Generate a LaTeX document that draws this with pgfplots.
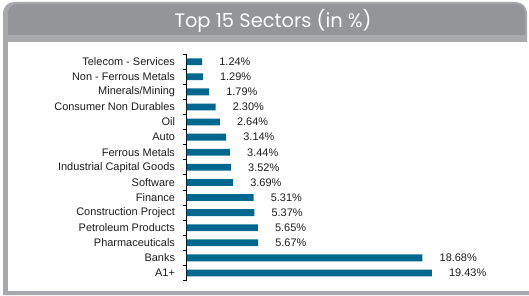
\documentclass[border=0pt]{standalone}
\usepackage{pgfplots}
\pgfplotsset{compat=1.18}
\usepackage{fontspec}
\setmainfont{Liberation Sans}
\newfontfamily\titlefont{Poppins}
\definecolor{framegray}{HTML}{A7A9AC}
\definecolor{headgray}{HTML}{939598}
\definecolor{barblue}{HTML}{00688F}
\definecolor{txt}{HTML}{1E1E1E}
\begin{document}
\begin{tikzpicture}
\begin{scope}[x=1bp,y=-1bp,yshift=295bp]
\path[use as bounding box] (0,0) rectangle (529,295);
\fill[framegray] (3,295) -- (3,13) arc[start angle=180,end angle=270,radius=11] -- (516,2) arc[start angle=270,end angle=360,radius=11] -- (527,42) -- (529,42) -- (529,295) -- cycle;
\fill[white] (8,42) rectangle (529,291);
\fill[headgray] (8,35) -- (8,13) arc[start angle=180,end angle=270,radius=9] -- (516,4) arc[start angle=270,end angle=360,radius=9] -- (525,35) -- cycle;
\node[text=white,font=\titlefont\fontsize{19.5}{22}\selectfont,inner sep=0pt,anchor=base] at (273,28) {Top 15 Sectors (in \%)};
\end{scope}
\begin{axis}[
  at={(186.5bp,14.5bp)}, anchor=south west,
  scale only axis, width=315.75bp, height=226.35bp,
  xbar, bar width=6.8bp,
  xmin=0, xmax=25, ymin=0.5, ymax=15.5,
  hide x axis, axis y line*=left,
  y axis line style={-, line width=0.9bp, color=black},
  ytick={1,...,15},
  yticklabels={A1+,Banks,Pharmaceuticals,Petroleum Products,Construction Project,Finance,Software,Industrial Capital Goods,Ferrous Metals,Auto,Oil,Consumer Non Durables,Minerals/Mining,Non - Ferrous Metals,Telecom - Services},
  major tick length=0pt,
  minor ytick={0.5,1.5,...,15.5},
  minor tick length=4bp,
  tick align=outside, ytick pos=left,
  minor tick style={line width=0.9bp, color=black},
  yticklabel style={font=\fontsize{11}{13}\selectfont, text=txt, xshift=-8bp},
  /pgf/number format/assume math mode=true,
  nodes near coords={\pgfmathprintnumber[fixed,precision=2,fixed zerofill]{\pgfplotspointmeta}\%},
  nodes near coords style={font=\fontsize{11}{13}\selectfont, text=txt, anchor=west, xshift=13.7bp},
  clip=false,
]
\addplot[fill=barblue, draw=none] coordinates {
(19.43,1) (18.68,2) (5.67,3) (5.65,4) (5.37,5) (5.31,6) (3.69,7) (3.52,8) (3.44,9) (3.14,10) (2.64,11) (2.30,12) (1.79,13) (1.29,14) (1.24,15)
};
\end{axis}
\end{tikzpicture}
\end{document}
